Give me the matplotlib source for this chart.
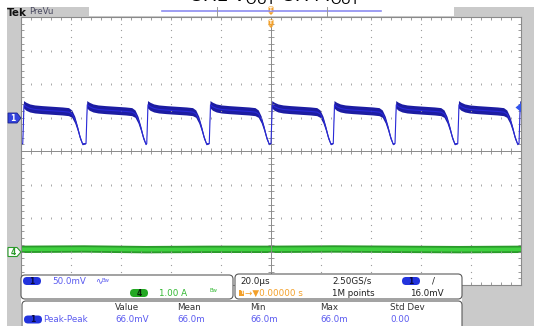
import numpy as np
import matplotlib.pyplot as plt
from matplotlib.patches import Rectangle, Polygon, FancyBboxPatch

# CH1 (Vout ripple), 50 mV/div, 20 us/div
spike_us = [-124.0, -99.3, -74.0, -49.7, -24.7, 0.0, 24.9, 49.6, 74.7, 99.2]
cycle_us = [0.0, 0.5, 1.5, 3.0, 5.0, 8.0, 12.0, 16.0, 18.5, 19.8, 21.0, 22.0, 23.0, 24.0]
cycle_mv = [-39, 19, 16, 13.5, 12, 11, 10, 9, 8, 5, -4, -16, -30, -40]
cycle_half_mv = [1.0, 5.5, 6, 6, 6, 6, 6, 6, 6, 5.5, 5, 4, 3, 1.5]

# CH4 (Iout), 1 A/div
ch4_us = [-100, -75, -50, -25, 0, 25, 50, 75, 100]
ch4_amp = [0.08, 0.09, 0.07, 0.08, 0.08, 0.09, 0.08, 0.07, 0.08]
ch4_half_amp = 0.11

ch1_scale = "50.0mV"
ch4_scale = "1.00 A"
timebase = "20.0µs"
sample_rate = "2.50GS/s"
record = "1M points"
trig_level = "16.0mV"
trig_pos = "0.00000 s"
meas_name = "Peak-Peak"
meas_cols = ["Value", "Mean", "Min", "Max", "Std Dev"]
meas_vals = ["66.0mV", "66.0m", "66.0m", "66.0m", "0.00"]

W, H = 534, 326
GREY = "#cacaca"
BLUE_TXT = "#5b5bf0"
GREEN_TXT = "#33b833"
ORANGE = "#f3a02a"

plt.rcParams["mathtext.default"] = "regular"
fig = plt.figure(figsize=(W / 100, H / 100), dpi=100)

def px_axes(z):
    a = fig.add_axes([0, 0, 1, 1], zorder=z)
    a.set_xlim(0, W)
    a.set_ylim(H, 0)
    a.axis("off")
    a.patch.set_alpha(0)
    return a

bg = px_axes(0)
bg.add_patch(Rectangle((7, 7), W - 7, H - 7, color=GREY, lw=0))

# graticule: 10 x 8 divisions
gl, gt, gr, gb = 21, 17, 521, 285
ax = fig.add_axes([gl / W, (H - gb) / H, (gr - gl) / W, (gb - gt) / H], zorder=1)
ax.set_facecolor("white")
ax.set_xlim(-100, 100)
ax.set_ylim(-4, 4)
ax.set_xticks(np.arange(-100, 101, 4))
ax.set_yticks(np.arange(-4, 4.01, 0.2))
ax.tick_params(direction="in", length=2.5, width=0.6, color="#8a8a8a",
               top=True, right=True, labelleft=False, labelbottom=False)
for s in ax.spines.values():
    s.set_color("#8a8a8a")
    s.set_linewidth(0.8)

sub_x = np.arange(-100, 101, 4)
sub_y = np.arange(-4, 4.01, 0.2)
for xv in range(-80, 81, 20):
    if xv != 0:
        ax.plot(np.full(len(sub_y), xv), sub_y, ls="none", marker="o", ms=0.9,
                mec="none", mfc="#9a9a9a")
for yv in range(-3, 4):
    if yv != 0:
        ax.plot(sub_x, np.full(len(sub_x), yv), ls="none", marker="|", ms=2,
                mew=0.6, color="#9a9a9a")
ax.axhline(0, color="#8a8a8a", lw=0.7)
ax.axvline(0, color="#8a8a8a", lw=0.7)
ax.plot(sub_x, np.zeros(len(sub_x)), ls="none", marker="|", ms=4, mew=0.6, color="#8a8a8a")
ax.plot(np.zeros(len(sub_y)), sub_y, ls="none", marker="_", ms=4, mew=0.6, color="#8a8a8a")

# CH1 trace
t1, v1, h1 = [], [], []
for s in spike_us:
    t1 += [s + c for c in cycle_us]
    v1 += cycle_mv
    h1 += cycle_half_mv
t1 = np.array(t1)
d1 = np.array(v1) / 50.0 + 1
hh1 = np.array(h1) / 50.0
ax.fill_between(t1, d1 - hh1, d1 + hh1, color="#1c1ca2", lw=0)
ax.plot(t1, d1, color="#2a2ad8", lw=0.8)

# CH4 trace
t4 = np.array(ch4_us)
d4 = np.array(ch4_amp) - 3
ax.fill_between(t4, d4 - ch4_half_amp, d4 + ch4_half_amp, color="#2a9a2a", lw=0)
ax.fill_between(t4, d4 - ch4_half_amp * 0.5, d4 + ch4_half_amp * 0.5, color="#3fd03f", lw=0)

ov = px_axes(3)

# caption of the capture, cut by the top edge
ov.text(274, 0.5, r"CH1 V$_{OUT}$ CH4 I$_{OUT}$", fontsize=14, ha="center",
        va="baseline", color="black", family="Liberation Sans")

# top bar
ov.text(7, 12.5, "Tek", fontsize=7.5, fontweight="bold", va="center", color="#111")
ov.text(29, 12, "PreVu", fontsize=6.2, va="center", color="#4a4a60")
ov.add_patch(Rectangle((89, 7), 365, 8.5, color="white", lw=0))
ov.plot([162, 381], [11, 11], color="#8c8cf0", lw=1.2)
ov.plot([217, 217], [7, 15.5], color="#999", lw=0.7)
ov.plot([327, 327], [7, 15.5], color="#999", lw=0.7)

def trig_mark(x, y):
    ov.add_patch(FancyBboxPatch((x - 2.5, y - 3.5), 5, 6, boxstyle="round,pad=0,rounding_size=1",
                                color=ORANGE, lw=0))
    ov.add_patch(Polygon([(x - 2.5, y + 2.5), (x + 2.5, y + 2.5), (x, y + 5)], color=ORANGE, lw=0))
    ov.text(x, y - 0.5, "T", fontsize=4, color="white", ha="center", va="center", fontweight="bold")

trig_mark(271, 10)
trig_mark(271, 23)

# channel markers
ov.add_patch(Polygon([(8, 113), (17, 113), (21, 118), (17, 123), (8, 123)],
                     facecolor="#3343dc", edgecolor="#1a2290", lw=0.6))
ov.text(13, 118.3, "1", fontsize=5.5, color="white", ha="center", va="center", fontweight="bold")
ov.add_patch(Polygon([(8, 247.5), (17, 247.5), (21, 252), (17, 256.5), (8, 256.5)],
                     facecolor="white", edgecolor="#2a9a2a", lw=0.8))
ov.text(13, 252.3, "4", fontsize=5.5, color="#2a9a2a", ha="center", va="center", fontweight="bold")
ov.add_patch(Polygon([(515.5, 107.5), (521, 103), (521, 112)], color="#3355ee", lw=0))

# readout panels
ov.add_patch(Rectangle((21, 286), 441, 40, color="white", lw=0))
for (x0, y0, w, h) in [(21, 275, 212, 24), (235, 274, 227, 25), (22, 301, 440, 30)]:
    ov.add_patch(FancyBboxPatch((x0, y0), w, h, boxstyle="round,pad=0,rounding_size=4",
                                facecolor="white", edgecolor="#5a5a5a", lw=0.8))

def oval(x, y, label, fc, tc):
    ov.add_patch(FancyBboxPatch((x - 9, y - 4), 18, 8, boxstyle="round,pad=0,rounding_size=4",
                                color=fc, lw=0))
    ov.text(x, y + 0.3, label, fontsize=5.5, color=tc, ha="center", va="center", fontweight="bold")

fs = 6.3
oval(32, 281, "1", "#2233dd", "#0a0a40")
ov.text(52, 281, ch1_scale, fontsize=fs, color=BLUE_TXT, va="center")
ov.text(95, 280.5, "∿", fontsize=fs, color=BLUE_TXT, va="center")
ov.text(102, 280, "Bw", fontsize=3.8, color=BLUE_TXT, va="center")
oval(139, 293, "4", "#22a822", "#062006")
ov.text(159, 293, ch4_scale, fontsize=fs, color=GREEN_TXT, va="center")
ov.text(209, 291, "Bw", fontsize=3.8, color=GREEN_TXT, va="center")

ov.text(240, 281, timebase, fontsize=fs, color="#222", va="center")
ov.text(332, 281, sample_rate, fontsize=fs, color="#222", va="center")
oval(411, 281, "1", "#2233dd", "#0a0a40")
ov.text(432, 281, "/", fontsize=fs, color="#222", va="center")
ov.add_patch(Rectangle((239, 289.5), 5, 6.5, color=ORANGE, lw=0))
ov.text(241.5, 293, "T", fontsize=3.8, color="white", ha="center", va="center", fontweight="bold")
ov.text(245, 293, "→▼" + trig_pos, fontsize=fs, color=ORANGE, va="center")
ov.text(332, 293, record, fontsize=fs, color="#222", va="center")
ov.text(410, 293, trig_level, fontsize=fs, color="#222", va="center")

col_x = [115, 177, 250, 320, 390]
for x, c, v in zip(col_x, meas_cols, meas_vals):
    ov.text(x, 308, c, fontsize=fs, color="#333", va="center")
    ov.text(x, 319.5, v, fontsize=fs, color=BLUE_TXT, va="center")
oval(33, 319.5, "1", "#2233dd", "#0a0a40")
ov.text(43, 319.5, meas_name, fontsize=fs, color=BLUE_TXT, va="center")

fig.savefig("out.png", dpi=100)
